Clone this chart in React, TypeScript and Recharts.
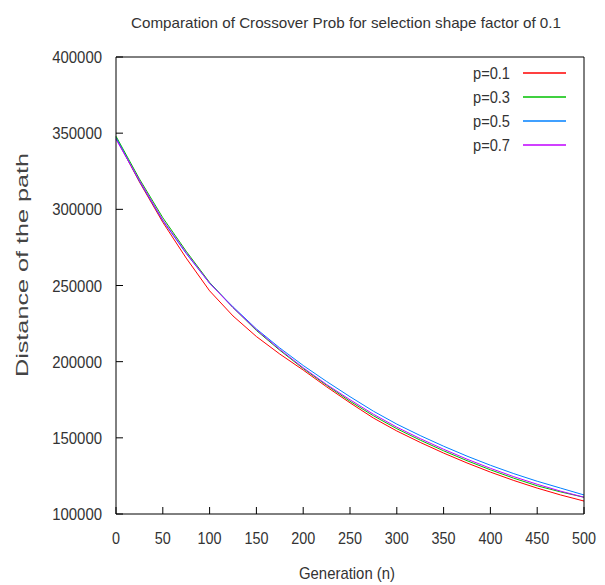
import { Legend, Line, LineChart, XAxis, YAxis } from "recharts"

const generations = [0, 25, 50, 75, 100, 125, 150, 175, 200, 225, 250, 275, 300, 325, 350, 375, 400, 425, 450, 475, 500]

const p01 = [347000, 318000, 291500, 268000, 246500, 230000, 216500, 205000, 194500, 183500, 173000, 163000, 154500, 147000, 140000, 133500, 127500, 122000, 117000, 112500, 108500]
const p03 = [348000, 320000, 294500, 272500, 252000, 235500, 220500, 207500, 195500, 184500, 174000, 164500, 156000, 148500, 141500, 135000, 129000, 123500, 118500, 114500, 111000]
const p05 = [347000, 318500, 292500, 271000, 251500, 236000, 221500, 209000, 197500, 187000, 177000, 167500, 159000, 151500, 144500, 138000, 132000, 126500, 121500, 117000, 112500]
const p07 = [346000, 319000, 293000, 271500, 251500, 235500, 221000, 208000, 196000, 185000, 175000, 165500, 157000, 149500, 142500, 136000, 130000, 124500, 119500, 115000, 111000]

const seriesKeys = ["p01", "p03", "p05", "p07"]
const seriesNames = ["p=0.1", "p=0.3", "p=0.5", "p=0.7"]
const seriesColors = ["#ff0000", "#00c000", "#0080ff", "#c000ff"]

const xTicks = [0, 50, 100, 150, 200, 250, 300, 350, 400, 450, 500]
const yTicks = [100000, 150000, 200000, 250000, 300000, 350000, 400000]

const rows = generations.map((g, i) => ({ gen: g, p01: p01[i], p03: p03[i], p05: p05[i], p07: p07[i] }))

const FONT = "'Liberation Sans', Arial, sans-serif"
const TEXT = "#333"

// the original picture is squeezed sideways, so text is drawn a bit narrower than normal
function XTick({ x, y, payload }: any) {
  const s = String(payload.value)
  return (
    <text x={x} y={y} dy={12} textAnchor="middle" fontSize={17} fill={TEXT} fontFamily={FONT} textLength={s.length * 8} lengthAdjust="spacingAndGlyphs">
      {s}
    </text>
  )
}

function YTick({ x, y, payload }: any) {
  const s = String(payload.value)
  return (
    <text x={x} y={y} dy={6} textAnchor="end" fontSize={17} fill={TEXT} fontFamily={FONT} textLength={s.length * 8.3} lengthAdjust="spacingAndGlyphs">
      {s}
    </text>
  )
}

function renderLegend() {
  return (
    <svg width={130} height={96}>
      {seriesNames.map((name, i) => (
        <g key={name}>
          <text x={50} y={12 + 24 * i + 6} textAnchor="end" fontSize={17} fill={TEXT} fontFamily={FONT} textLength={37} lengthAdjust="spacingAndGlyphs">
            {name}
          </text>
          <line x1={63} y1={12 + 24 * i} x2={106} y2={12 + 24 * i} stroke={seriesColors[i]} strokeWidth={1.5} />
        </g>
      ))}
    </svg>
  )
}

export default function App() {
  return (
    <div style={{ position: "absolute", left: 0, top: 0, width: 605, height: 585, background: "#fff" }}>
      <LineChart width={605} height={585} data={rows} margin={{ top: 56, right: 20, bottom: 31, left: 0 }}>
        <XAxis
          dataKey="gen"
          type="number"
          domain={[0, 500]}
          ticks={xTicks}
          height={40}
          tickSize={-7}
          tickMargin={25}
          tick={<XTick />}
          stroke="#000"
          tickLine={{ stroke: "#000" }}
        />
        <XAxis
          xAxisId="top"
          orientation="top"
          dataKey="gen"
          type="number"
          domain={[0, 500]}
          allowDataOverflow
          ticks={xTicks}
          height={1}
          tickSize={-7}
          tick={false}
          stroke="#000"
          tickLine={{ stroke: "#000" }}
        />
        <YAxis
          type="number"
          domain={[100000, 400000]}
          ticks={yTicks}
          width={116}
          tickSize={-7}
          tickMargin={21}
          tick={<YTick />}
          stroke="#000"
          tickLine={{ stroke: "#000" }}
        />
        <YAxis
          yAxisId="right"
          orientation="right"
          type="number"
          domain={[100000, 400000]}
          allowDataOverflow
          ticks={yTicks}
          width={1}
          tickSize={-7}
          tick={false}
          stroke="#000"
          tickLine={{ stroke: "#000" }}
        />
        <Legend
          layout="horizontal"
          verticalAlign="middle"
          align="center"
          content={renderLegend}
          wrapperStyle={{ top: 61, left: 460, width: 130, height: 96 }}
        />
        {seriesKeys.map((key, i) => (
          <Line
            key={key}
            dataKey={key}
            name={seriesNames[i]}
            stroke={seriesColors[i]}
            strokeWidth={1}
            dot={false}
            type="linear"
            isAnimationActive={false}
          />
        ))}
        {/* invisible series so the mirrored frame axes get drawn */}
        <Line
          xAxisId="top"
          yAxisId="right"
          dataKey="p03"
          stroke="none"
          dot={false}
          activeDot={false}
          legendType="none"
          isAnimationActive={false}
        />
      </LineChart>
      <svg width={605} height={585} style={{ position: "absolute", left: 0, top: 0, pointerEvents: "none" }}>
        <text x={346} y={28} textAnchor="middle" fontSize={15} fill={TEXT} fontFamily={FONT} textLength={430} lengthAdjust="spacingAndGlyphs">
          Comparation of Crossover Prob for selection shape factor of 0.1
        </text>
        <text x={347} y={579} textAnchor="middle" fontSize={17} fill={TEXT} fontFamily={FONT} textLength={96} lengthAdjust="spacingAndGlyphs">
          Generation (n)
        </text>
        <text transform="translate(28,265) rotate(-90)" textAnchor="middle" fontSize={16} fill="#444" fontFamily={FONT} textLength={224} lengthAdjust="spacingAndGlyphs">
          Distance of the path
        </text>
      </svg>
    </div>
  )
}
